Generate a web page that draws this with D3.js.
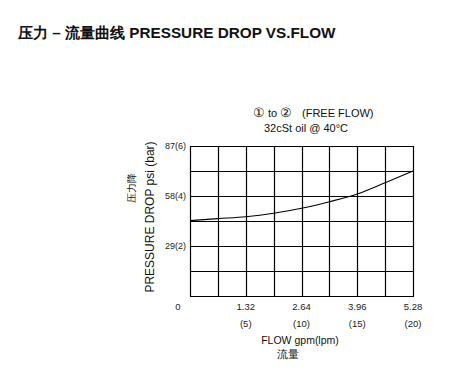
<!DOCTYPE html>
<html>
<head>
<meta charset="utf-8">
<script src="https://cdn.jsdelivr.net/npm/d3@7"></script>
<style>
  body { margin: 0; background: #fff; }
  svg { display: block; font-family: "Liberation Sans", Arial, sans-serif; }
</style>
</head>
<body>
<svg id="chart" width="457" height="372"></svg>
<script>
// flow in gpm, pressure drop in psi
const flowGpm = [0, 0.66, 1.32, 1.98, 2.64, 3.30, 3.96, 4.62, 5.28];
const dropPsi = [43.7, 44.9, 46.0, 48.0, 50.9, 54.7, 59.2, 65.7, 72.5];

const xTicks = [0, 1.32, 2.64, 3.96, 5.28];
const xTickLpm = ['', '(5)', '(10)', '(15)', '(20)'];
const yTicks = [29, 58, 87];
const yTickLabels = ['29(2)', '58(4)', '87(6)'];

const svg = d3.select('#chart');

// plot box
const plotL = 190, plotR = 413, plotT = 146, plotB = 296;

const x = d3.scaleLinear().domain([0, 5.28]).range([plotL, plotR]);
const y = d3.scaleLinear().domain([0, 87]).range([plotB, plotT]);

// title
svg.append('text')
    .attr('x', 18).attr('y', 38)
    .attr('font-size', 15.3).attr('font-weight', 'bold')
    .attr('fill', '#111')
    .text('压力 – 流量曲线 PRESSURE DROP VS.FLOW');

// grid - 8 columns x 6 rows
const g = svg.append('g').attr('stroke', '#000').attr('stroke-width', 1.2);
d3.range(0, 9).forEach(i => {
    const xx = Math.round(x(i * 0.66)) + 0.5;
    g.append('line').attr('x1', xx).attr('x2', xx).attr('y1', plotT).attr('y2', plotB);
});
d3.range(0, 7).forEach(i => {
    const yy = Math.round(y(i * 14.5)) + 0.5;
    g.append('line').attr('x1', plotL).attr('x2', plotR + 1).attr('y1', yy).attr('y2', yy);
});

// curve
const line = d3.line()
    .x((d, i) => x(flowGpm[i]))
    .y(d => y(d))
    .curve(d3.curveMonotoneX);

svg.append('path')
    .datum(dropPsi)
    .attr('d', line)
    .attr('fill', 'none')
    .attr('stroke', '#000')
    .attr('stroke-width', 1.1);

// y tick labels
svg.selectAll('.ylab')
    .data(yTicks)
    .enter().append('text')
    .attr('class', 'ylab')
    .attr('x', 186)
    .attr('y', d => y(d))
    .attr('dy', '0.35em')
    .attr('text-anchor', 'end')
    .attr('font-size', 9)
    .attr('fill', '#222')
    .text((d, i) => yTickLabels[i]);

// x tick labels
svg.selectAll('.xlab')
    .data(xTicks)
    .enter().append('text')
    .attr('class', 'xlab')
    .attr('x', d => d === 0 ? 178 : x(d))
    .attr('y', 310)
    .attr('text-anchor', 'middle')
    .attr('font-size', 9.5)
    .attr('fill', '#222')
    .text(d => d === 0 ? '0' : d3.format('.2f')(d));

svg.selectAll('.xlpm')
    .data(xTicks)
    .enter().append('text')
    .attr('class', 'xlpm')
    .attr('x', d => x(d))
    .attr('y', 327)
    .attr('text-anchor', 'middle')
    .attr('font-size', 9.5)
    .attr('fill', '#222')
    .text((d, i) => xTickLpm[i]);

// axis titles
svg.append('text')
    .attr('x', 300).attr('y', 344)
    .attr('text-anchor', 'middle')
    .attr('font-size', 10.5).attr('fill', '#111')
    .text('FLOW gpm(lpm)');
svg.append('text')
    .attr('x', 288).attr('y', 358)
    .attr('text-anchor', 'middle')
    .attr('font-size', 10.5).attr('fill', '#111')
    .text('流量');

svg.append('text')
    .attr('transform', 'translate(154,217) rotate(-90)')
    .attr('text-anchor', 'middle')
    .attr('font-size', 12).attr('fill', '#111')
    .text('PRESSURE DROP psi (bar)');
svg.append('text')
    .attr('transform', 'translate(135,188) rotate(-90)')
    .attr('text-anchor', 'middle')
    .attr('font-size', 10).attr('fill', '#111')
    .text('压力降');

// condition notes
const note = svg.append('text')
    .attr('x', 253).attr('y', 117)
    .attr('font-size', 11).attr('fill', '#111');
note.append('tspan').attr('font-size', 12.5).text('①');
note.append('tspan').text(' to ');
note.append('tspan').attr('font-size', 12.5).text('②');
note.append('tspan').attr('x', 302).text('(FREE FLOW)');
svg.append('text')
    .attr('x', 264).attr('y', 132)
    .attr('font-size', 11).attr('fill', '#111')
    .text('32cSt oil @ 40°C');
</script>
</body>
</html>
